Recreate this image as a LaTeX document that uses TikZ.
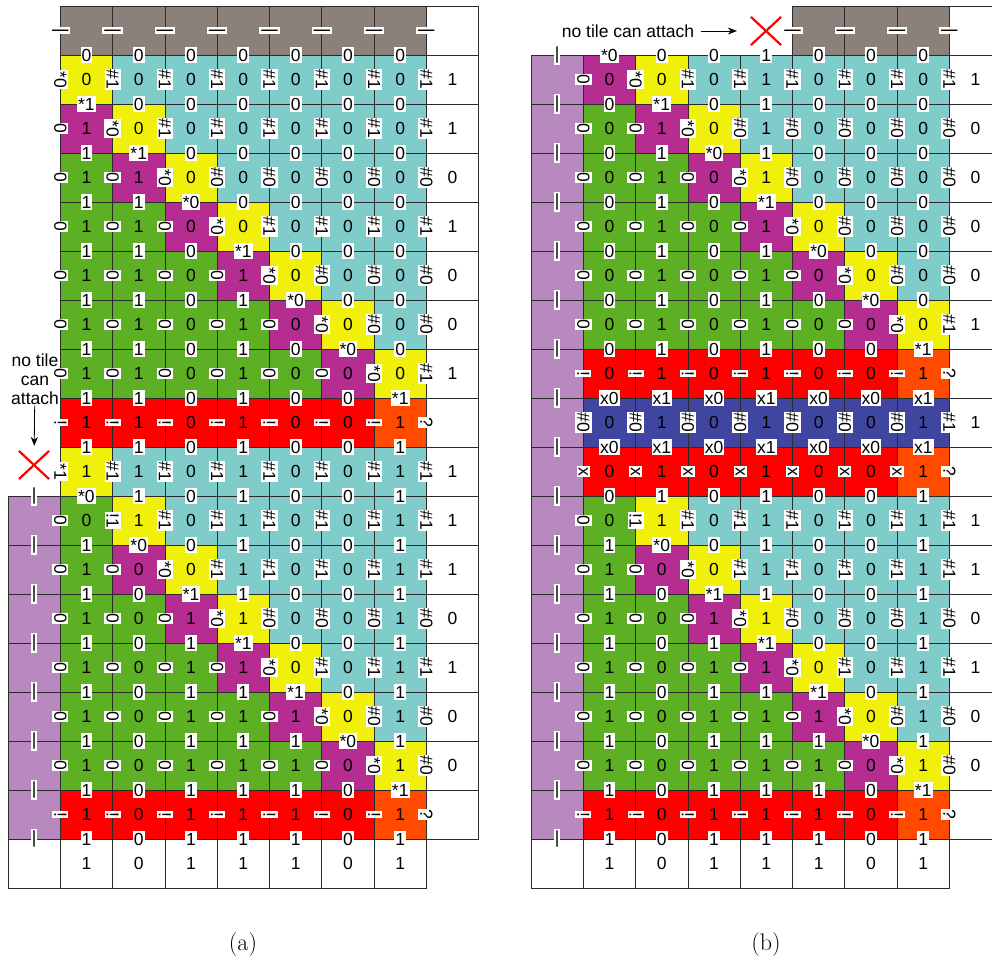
\documentclass[tikz,border=0pt]{standalone}
\usepackage{fontspec}
\setsansfont{Liberation Sans}
\usetikzlibrary{arrows.meta,shapes.misc}
\definecolor{stone}{HTML}{8B807A}
\definecolor{aqua}{HTML}{7FCCCB}
\definecolor{lemon}{HTML}{F0F00A}
\definecolor{plum}{HTML}{B52D91}
\definecolor{leaf}{HTML}{5DAF23}
\definecolor{scarlet}{HTML}{FF0000}
\definecolor{ember}{HTML}{FF4A00}
\definecolor{lilac}{HTML}{B789BE}
\definecolor{navy}{HTML}{40469F}
\definecolor{gridline}{HTML}{2B2B2B}
\newcommand{\tilefont}{\sffamily\fontsize{17.5}{19}\selectfont}
\tikzset{
  >={Stealth[length=9pt,width=7pt]},
  tile/.style={draw=gridline,line width=.8pt,fill=#1},
  edgelabel/.style={fill=white,inner xsep=1pt,inner ysep=2pt,font=\tilefont},
  sidelabel/.style={edgelabel,rotate=-90},
  valuelabel/.style={inner sep=0pt,font=\tilefont},
  note/.style={font=\tilefont,align=center,inner sep=1pt},
  nocross/.style={cross out,draw=red,line width=2.2pt,minimum width=28pt,minimum height=26pt,inner sep=0pt},
  pointer/.style={->,line width=.8pt},
}
\newcommand{\panelxa}{8}
\newcommand{\panelxb}{531}
\newcommand{\tilew}{52.3}
\newcommand{\tileh}{49}
% #1 panel, #2 row, #3 first column, #4 fills
\newcommand{\tilefills}[4]{%
  \edef\tilex{\csname panelx#1\endcsname}%
  \foreach \fillc [count=\col from #3] in {#4}
    \path[tile=\fillc] (\tilex+\col*\tilew,6+#2*\tileh) rectangle ++(\tilew,\tileh);}
\newcommand{\toplabels}[4]{%
  \edef\tilex{\csname panelx#1\endcsname}%
  \foreach \lbl [count=\col from #3] in {#4}
    \node[edgelabel] (#1top#2-\col) at (\tilex+\col*\tilew+.5*\tilew,6+#2*\tileh) {\lbl};}
\newcommand{\sidelabels}[4]{%
  \edef\tilex{\csname panelx#1\endcsname}%
  \foreach \lbl [count=\col from #3] in {#4}
    \node[sidelabel] (#1side#2-\col) at (\tilex+\col*\tilew,6+#2*\tileh+.5*\tileh) {\lbl};}
\newcommand{\tilevalues}[3]{%
  \edef\tilex{\csname panelx#1\endcsname}%
  \foreach \lbl [count=\col] in {#3}
    \node[valuelabel] (#1val#2-\col) at (\tilex+\col*\tilew+.5*\tilew,6+#2*\tileh+.5*\tileh) {\lbl};}
% #5 labels on the top edges, #6 labels on the left edges, #7 values
\newcommand{\tilerow}[7]{%
  \tilefills{#1}{#2}{#3}{#4}\toplabels{#1}{#2}{#3}{#5}%
  \sidelabels{#1}{#2}{1}{#6}\tilevalues{#1}{#2}{#7}}

\begin{document}
\begin{tikzpicture}[x=1pt,y=-1pt]
  \useasboundingbox (0,0) rectangle (992,960);

  % (a)
  \tilefills{a}{0}{1}{stone,stone,stone,stone,stone,stone,stone,white}
  \sidelabels{a}{0}{1}{|,|,|,|,|,|,|,|}
  \tilerow{a}{1}{1}{lemon,aqua,aqua,aqua,aqua,aqua,aqua,white}{0,0,0,0,0,0,0}{*0,\#1,\#1,\#1,\#1,\#1,\#1,\#1}{0,0,0,0,0,0,0,1}
  \tilerow{a}{2}{1}{plum,lemon,aqua,aqua,aqua,aqua,aqua,white}{*1,0,0,0,0,0,0}{0,*0,\#1,\#1,\#1,\#1,\#1,\#1}{1,0,0,0,0,0,0,1}
  \tilerow{a}{3}{1}{leaf,plum,lemon,aqua,aqua,aqua,aqua,white}{1,*1,0,0,0,0,0}{0,0,*0,\#0,\#0,\#0,\#0,\#0}{1,1,0,0,0,0,0,0}
  \tilerow{a}{4}{1}{leaf,leaf,plum,lemon,aqua,aqua,aqua,white}{1,1,*0,0,0,0,0}{0,0,0,*0,\#1,\#1,\#1,\#1}{1,1,0,0,0,0,0,1}
  \tilerow{a}{5}{1}{leaf,leaf,leaf,plum,lemon,aqua,aqua,white}{1,1,0,*1,0,0,0}{0,0,0,0,*0,\#0,\#0,\#0}{1,1,0,1,0,0,0,0}
  \tilerow{a}{6}{1}{leaf,leaf,leaf,leaf,plum,lemon,aqua,white}{1,1,0,1,*0,0,0}{0,0,0,0,0,*0,\#0,\#0}{1,1,0,1,0,0,0,0}
  \tilerow{a}{7}{1}{leaf,leaf,leaf,leaf,leaf,plum,lemon,white}{1,1,0,1,0,*0,0}{0,0,0,0,0,0,*0,\#1}{1,1,0,1,0,0,0,1}
  \tilerow{a}{8}{1}{scarlet,scarlet,scarlet,scarlet,scarlet,scarlet,ember,white}{1,1,0,1,0,0,*1}{!,!,!,!,!,!,!,?}{1,1,0,1,0,0,1,{}}
  \tilerow{a}{9}{1}{lemon,aqua,aqua,aqua,aqua,aqua,aqua,white}{1,1,0,1,0,0,1}{*1,\#1,\#1,\#1,\#1,\#1,\#1,\#1}{1,1,0,1,0,0,1,1}
  \tilerow{a}{10}{0}{lilac,leaf,lemon,aqua,aqua,aqua,aqua,aqua,white}{|,*0,1,0,1,0,0,1}{0,!1,\#1,\#1,\#1,\#1,\#1,\#1}{0,1,0,1,0,0,1,1}
  \tilerow{a}{11}{0}{lilac,leaf,plum,lemon,aqua,aqua,aqua,aqua,white}{|,1,*0,0,1,0,0,1}{0,0,*0,\#1,\#1,\#1,\#1,\#1}{1,0,0,1,0,0,1,1}
  \tilerow{a}{12}{0}{lilac,leaf,leaf,plum,lemon,aqua,aqua,aqua,white}{|,1,0,*1,1,0,0,1}{0,0,0,*0,\#0,\#0,\#0,\#0}{1,0,1,1,0,0,1,0}
  \tilerow{a}{13}{0}{lilac,leaf,leaf,leaf,plum,lemon,aqua,aqua,white}{|,1,0,1,*1,0,0,1}{0,0,0,0,*0,\#1,\#1,\#1}{1,0,1,1,0,0,1,1}
  \tilerow{a}{14}{0}{lilac,leaf,leaf,leaf,leaf,plum,lemon,aqua,white}{|,1,0,1,1,*1,0,1}{0,0,0,0,0,*0,\#0,\#0}{1,0,1,1,1,0,1,0}
  \tilerow{a}{15}{0}{lilac,leaf,leaf,leaf,leaf,leaf,plum,lemon,white}{|,1,0,1,1,1,*0,1}{0,0,0,0,0,0,*0,\#0}{1,0,1,1,1,0,1,0}
  \tilerow{a}{16}{0}{lilac,scarlet,scarlet,scarlet,scarlet,scarlet,scarlet,ember,white}{|,1,0,1,1,1,0,*1}{!,!,!,!,!,!,!,?}{1,0,1,1,1,0,1,{}}
  \tilefills{a}{17}{0}{white,white,white,white,white,white,white,white}
  \toplabels{a}{17}{0}{|,1,0,1,1,1,0,1}
  \tilevalues{a}{17}{1,0,1,1,1,0,1}

  \node[note] (attacha) at (35,379) {no tile\\can\\attach};
  \node[nocross] (crossa) at (34,465) {};
  \draw[pointer,shorten >=5pt] (attacha) -- (crossa);

  % (b)
  \tilefills{b}{0}{5}{stone,stone,stone,white}
  \sidelabels{b}{0}{5}{|,|,|,|}
  \tilerow{b}{1}{0}{lilac,plum,lemon,aqua,aqua,aqua,aqua,aqua,white}{|,*0,0,0,1,0,0,0}{0,*0,\#1,\#1,\#1,\#1,\#1,\#1}{0,0,0,1,0,0,0,1}
  \tilerow{b}{2}{0}{lilac,leaf,plum,lemon,aqua,aqua,aqua,aqua,white}{|,0,*1,0,1,0,0,0}{0,0,*0,\#0,\#0,\#0,\#0,\#0}{0,1,0,1,0,0,0,0}
  \tilerow{b}{3}{0}{lilac,leaf,leaf,plum,lemon,aqua,aqua,aqua,white}{|,0,1,*0,1,0,0,0}{0,0,0,*0,\#0,\#0,\#0,\#0}{0,1,0,1,0,0,0,0}
  \tilerow{b}{4}{0}{lilac,leaf,leaf,leaf,plum,lemon,aqua,aqua,white}{|,0,1,0,*1,0,0,0}{0,0,0,0,*0,\#0,\#0,\#0}{0,1,0,1,0,0,0,0}
  \tilerow{b}{5}{0}{lilac,leaf,leaf,leaf,leaf,plum,lemon,aqua,white}{|,0,1,0,1,*0,0,0}{0,0,0,0,0,*0,\#0,\#0}{0,1,0,1,0,0,0,0}
  \tilerow{b}{6}{0}{lilac,leaf,leaf,leaf,leaf,leaf,plum,lemon,white}{|,0,1,0,1,0,*0,0}{0,0,0,0,0,0,*0,\#1}{0,1,0,1,0,0,0,1}
  \tilerow{b}{7}{0}{lilac,scarlet,scarlet,scarlet,scarlet,scarlet,scarlet,ember,white}{|,0,1,0,1,0,0,*1}{!,!,!,!,!,!,!,?}{0,1,0,1,0,0,1,{}}
  \tilerow{b}{8}{0}{lilac,navy,navy,navy,navy,navy,navy,navy,white}{|,x0,x1,x0,x1,x0,x0,x1}{\#0,\#0,\#0,\#0,\#0,\#0,\#0,\#1}{0,1,0,1,0,0,1,1}
  \tilerow{b}{9}{0}{lilac,scarlet,scarlet,scarlet,scarlet,scarlet,scarlet,ember,white}{|,x0,x1,x0,x1,x0,x0,x1}{x,x,x,x,x,x,x,?}{0,1,0,1,0,0,1,{}}
  \tilerow{b}{10}{0}{lilac,leaf,lemon,aqua,aqua,aqua,aqua,aqua,white}{|,0,1,0,1,0,0,1}{0,!1,\#1,\#1,\#1,\#1,\#1,\#1}{0,1,0,1,0,0,1,1}
  \tilerow{b}{11}{0}{lilac,leaf,plum,lemon,aqua,aqua,aqua,aqua,white}{|,1,*0,0,1,0,0,1}{0,0,*0,\#1,\#1,\#1,\#1,\#1}{1,0,0,1,0,0,1,1}
  \tilerow{b}{12}{0}{lilac,leaf,leaf,plum,lemon,aqua,aqua,aqua,white}{|,1,0,*1,1,0,0,1}{0,0,0,*0,\#0,\#0,\#0,\#0}{1,0,1,1,0,0,1,0}
  \tilerow{b}{13}{0}{lilac,leaf,leaf,leaf,plum,lemon,aqua,aqua,white}{|,1,0,1,*1,0,0,1}{0,0,0,0,*0,\#1,\#1,\#1}{1,0,1,1,0,0,1,1}
  \tilerow{b}{14}{0}{lilac,leaf,leaf,leaf,leaf,plum,lemon,aqua,white}{|,1,0,1,1,*1,0,1}{0,0,0,0,0,*0,\#0,\#0}{1,0,1,1,1,0,1,0}
  \tilerow{b}{15}{0}{lilac,leaf,leaf,leaf,leaf,leaf,plum,lemon,white}{|,1,0,1,1,1,*0,1}{0,0,0,0,0,0,*0,\#0}{1,0,1,1,1,0,1,0}
  \tilerow{b}{16}{0}{lilac,scarlet,scarlet,scarlet,scarlet,scarlet,scarlet,ember,white}{|,1,0,1,1,1,0,*1}{!,!,!,!,!,!,!,?}{1,0,1,1,1,0,1,{}}
  \tilefills{b}{17}{0}{white,white,white,white,white,white,white,white}
  \toplabels{b}{17}{0}{|,1,0,1,1,1,0,1}
  \tilevalues{b}{17}{1,0,1,1,1,0,1}

  \node[note] (attachb) at (628,31) {no tile can attach};
  \node[nocross] (crossb) at (766,31) {};
  \draw[pointer,shorten <=6pt,shorten >=14pt] (attachb) -- (crossb);

  \node (capa) at (243,944) {\fontsize{24}{28}\selectfont (a)};
  \node (capb) at (766,944) {\fontsize{24}{28}\selectfont (b)};
\end{tikzpicture}
\end{document}
